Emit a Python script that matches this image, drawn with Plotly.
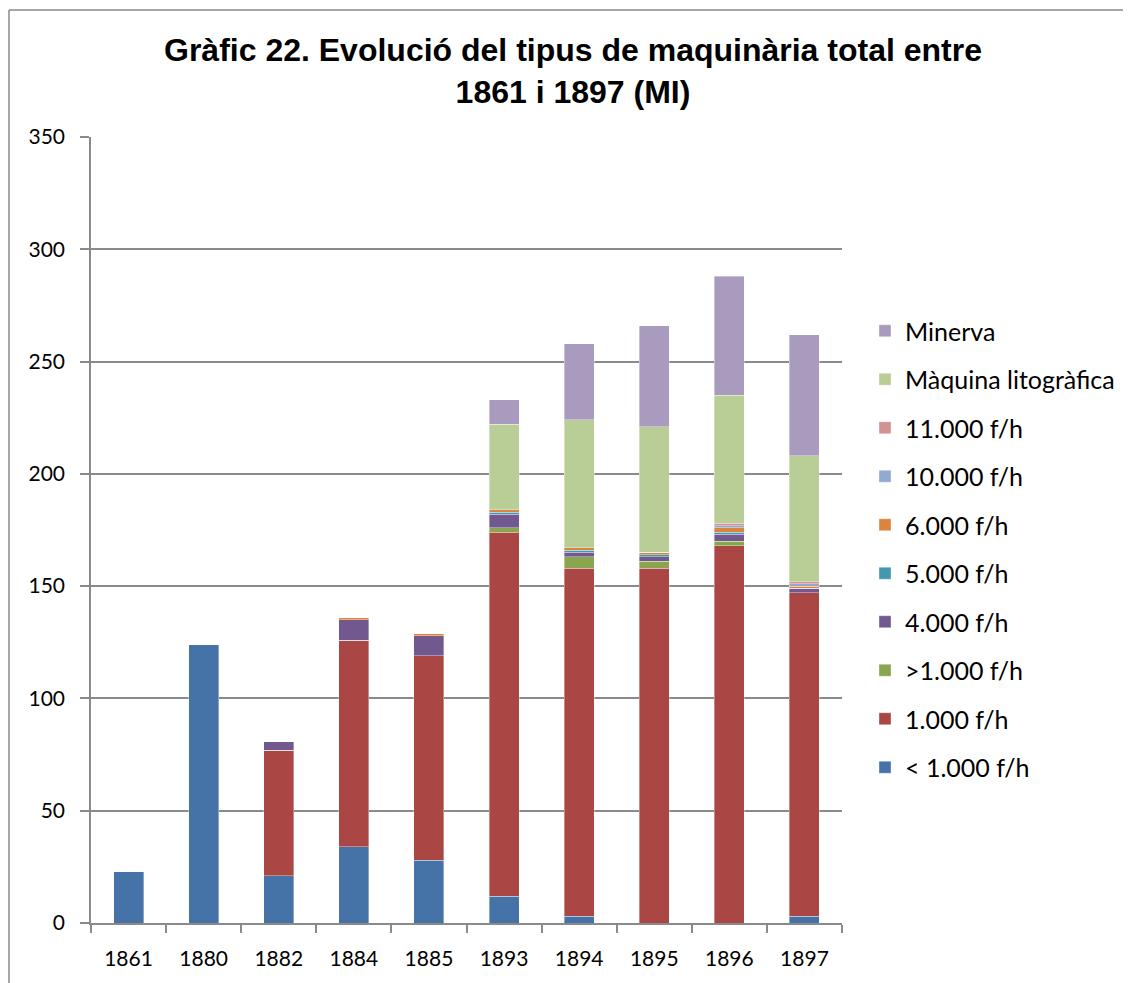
import plotly.graph_objects as go

years = ["1861", "1880", "1882", "1884", "1885", "1893", "1894", "1895", "1896", "1897"]

lt_1000 = [23, 124, 21, 34, 28, 12, 3, 0, 0, 3]
f_1000 = [0, 0, 56, 92, 91, 162, 155, 158, 168, 144]
gt_1000 = [0, 0, 0, 0, 0, 2, 5, 3, 2, 0]
f_4000 = [0, 0, 4, 9, 9, 6, 2, 2, 3, 2]
f_5000 = [0, 0, 0, 0, 0, 1, 1, 1, 1, 0]
f_6000 = [0, 0, 0, 1, 1, 1, 1, 1, 2, 1]
f_10000 = [0, 0, 0, 0, 0, 0, 0, 0, 1, 1]
f_11000 = [0, 0, 0, 0, 0, 0, 0, 0, 1, 1]
maquina_lito = [0, 0, 0, 0, 0, 38, 57, 56, 57, 56]
minerva = [0, 0, 0, 0, 0, 11, 34, 45, 53, 54]

series_names = ["< 1.000 f/h", "1.000 f/h", ">1.000 f/h", "4.000 f/h", "5.000 f/h",
                "6.000 f/h", "10.000 f/h", "11.000 f/h", "Màquina litogràfica", "Minerva"]
series_values = [lt_1000, f_1000, gt_1000, f_4000, f_5000, f_6000, f_10000, f_11000,
                 maquina_lito, minerva]
series_colors = ["#4572A7", "#AA4643", "#89A54E", "#71588F", "#4198AF",
                 "#DB843D", "#93A9CF", "#D19392", "#B9CD96", "#A99BBD"]

title_text = "Gràfic 22. Evolució del tipus de maquinària total entre<br>1861 i 1897 (MI)"

fig = go.Figure()
n = len(series_names)
for i, (name, vals, col) in enumerate(zip(series_names, series_values, series_colors)):
    fig.add_trace(go.Bar(
        x=years, y=vals, name=name, legendgroup=f"g{i}", legendrank=n - i,
        marker=dict(color=col, line=dict(color="rgba(255,255,255,0.45)", width=0.8)),
    ))

# page body has an 8px margin, so figure coordinates are offset by 8px
OFF = 8
W, H = 1131 - OFF, 983 - OFF
L, T = 91 - OFF, 137 - OFF
pw, ph = 751, 786
R = W - L - pw
B = H - T - ph

def px2paper_x(px):
    return (px - OFF - L) / pw

def px2paper_y(py):
    return (T + ph - (py - OFF)) / ph

def px2cont_x(px):
    return (px - OFF) / W

def px2cont_y(py):
    return 1 - (py - OFF) / H

grid = "#8A8A8A"
fig.update_layout(
    width=W, height=H, autosize=False,
    margin=dict(l=L, r=R, t=T, b=B, autoexpand=False),
    barmode="stack", bargap=0.6,
    plot_bgcolor="white", paper_bgcolor="white",
    font=dict(family="Lato, Open Sans, sans-serif", size=21, color="#000000"),
    legend=dict(
        x=px2cont_x(865), xanchor="left", xref="container",
        y=px2cont_y(308), yanchor="top", yref="container",
        traceorder="grouped", tracegroupgap=13, itemwidth=30,
        font=dict(family="Lato, Open Sans, sans-serif", size=25, color="#000000"),
        bgcolor="rgba(0,0,0,0)",
    ),
    xaxis=dict(
        type="category", showline=True, linecolor=grid, linewidth=1.5,
        ticks="outside", tickson="boundaries", ticklen=8, tickcolor=grid, tickwidth=1.5,
        showgrid=False, tickfont=dict(size=21), fixedrange=True, ticklabelstandoff=16,
    ),
    yaxis=dict(
        range=[0, 350], dtick=50, showline=True, linecolor=grid, linewidth=1.5,
        ticks="outside", ticklen=9, tickcolor=grid, tickwidth=1.5,
        showgrid=True, gridcolor=grid, gridwidth=1.5, zeroline=False,
        tickfont=dict(size=21), ticklabelstandoff=11,
    ),
    showlegend=True,
    annotations=[
        dict(text=title_text, xref="paper", yref="paper",
             x=px2paper_x(573), xanchor="center", y=px2paper_y(30), yanchor="top",
             showarrow=False, align="center",
             font=dict(family="Liberation Sans, Arial, sans-serif", size=32,
                       color="#000000", weight="bold")),
    ],
    shapes=[
        dict(type="line", xref="paper", yref="paper",
             x0=px2paper_x(9), x1=px2paper_x(1140), y0=px2paper_y(10), y1=px2paper_y(10),
             line=dict(color=grid, width=1.5)),
        dict(type="line", xref="paper", yref="paper",
             x0=px2paper_x(9), x1=px2paper_x(9), y0=px2paper_y(10), y1=px2paper_y(1000),
             line=dict(color=grid, width=1.5)),
    ],
)

fig.write_html("out.html")
